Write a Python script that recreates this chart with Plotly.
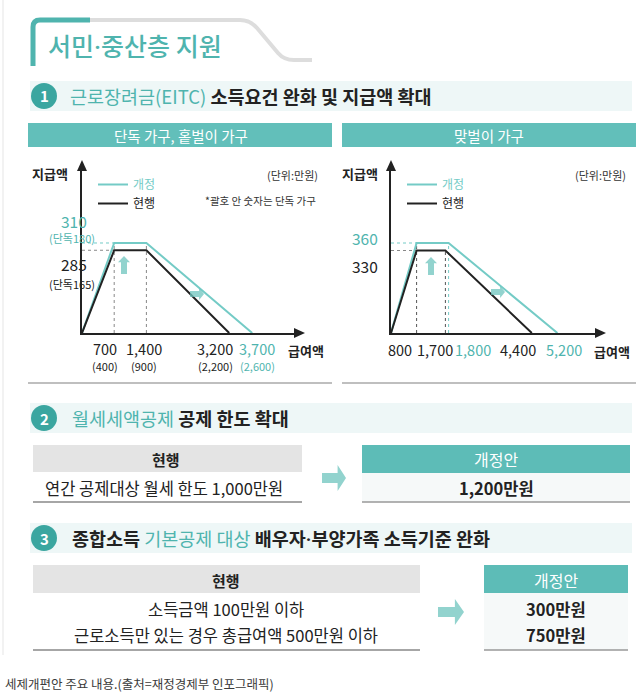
import plotly.graph_objects as go

W, H = 644, 698
FONT = "Noto Sans CJK KR"
TEAL_LINE = "#74cbc6"
TEAL_TXT = "#4fb4ae"
TEAL_BAR = "#62bfba"
TEAL_DARK = "#3ba6a0"
BLACK = "#222222"

# ---------------- data ----------------
single_current_x = [0, 700, 1400, 3200]
single_current_y = [0, 285, 285, 0]
single_revised_x = [0, 700, 1400, 3700]
single_revised_y = [0, 310, 310, 0]
single_x_labels = ["700", "1,400", "3,200", "3,700"]
single_x_values = [700, 1400, 3200, 3700]
single_x_sub = ["(400)", "(900)", "(2,200)", "(2,600)"]
single_x_revised_flag = [False, False, False, True]
single_y_values = [310, 285]
single_y_sub = ["(단독180)", "(단독165)"]

dual_current_x = [0, 800, 1700, 4400]
dual_current_y = [0, 330, 330, 0]
dual_revised_x = [0, 800, 1800, 5200]
dual_revised_y = [0, 360, 360, 0]
dual_x_labels = ["800", "1,700", "1,800", "4,400", "5,200"]
dual_x_values = [800, 1700, 1800, 4400, 5200]
dual_x_revised_flag = [False, False, True, False, True]
dual_y_values = [360, 330]

rent_current = ["연간 공제대상 월세 한도 1,000만원"]
rent_revised = ["1,200만원"]
dep_current = ["소득금액 100만원 이하", "근로소득만 있는 경우 총급여액 500만원 이하"]
dep_revised = ["300만원", "750만원"]

# label offsets (layout only, px)
single_x_shift = [-9, -2, -14, 5]
dual_x_shift = [-17, -10, 24, -14, 7]


def X(px):
    return px / W


def Y(py):
    return 1 - py / H


def P(points, close=True):
    s = ""
    for i, (a, b) in enumerate(points):
        s += ("M" if i == 0 else "L") + f"{X(a):.5f},{Y(b):.5f} "
    return s + ("Z" if close else "")


fig = go.Figure()

fig.add_trace(go.Scatter(x=single_revised_x, y=single_revised_y, mode="lines",
                         line=dict(color=TEAL_LINE, width=2),
                         name=f"<span style='color:{TEAL_LINE}'>개정</span>",
                         xaxis="x", yaxis="y", legend="legend", hoverinfo="skip"))
fig.add_trace(go.Scatter(x=single_current_x, y=single_current_y, mode="lines",
                         line=dict(color=BLACK, width=2), name="현행",
                         xaxis="x", yaxis="y", legend="legend", hoverinfo="skip"))
fig.add_trace(go.Scatter(x=dual_revised_x, y=dual_revised_y, mode="lines",
                         line=dict(color=TEAL_LINE, width=2),
                         name=f"<span style='color:{TEAL_LINE}'>개정</span>",
                         xaxis="x2", yaxis="y2", legend="legend2", hoverinfo="skip"))
fig.add_trace(go.Scatter(x=dual_current_x, y=dual_current_y, mode="lines",
                         line=dict(color=BLACK, width=2), name="현행",
                         xaxis="x2", yaxis="y2", legend="legend2", hoverinfo="skip"))

shapes = []
ann = []


def rect(x0, y0, x1, y1, color, line=None):
    shapes.append(dict(type="rect", xref="paper", yref="paper", x0=X(x0), x1=X(x1),
                       y0=Y(y1), y1=Y(y0), fillcolor=color,
                       line=dict(width=0) if line is None else line, layer="below"))


def hline(x0, x1, y, color, width):
    shapes.append(dict(type="line", xref="paper", yref="paper", x0=X(x0), x1=X(x1),
                       y0=Y(y), y1=Y(y), line=dict(color=color, width=width)))


def text(t, x, y, size, color=BLACK, xanchor="center", weight=None, yanchor="middle"):
    f = dict(family=FONT, size=size, color=color)
    if weight:
        f["weight"] = weight
    ann.append(dict(text=t, x=X(x), y=Y(y), xref="paper", yref="paper", showarrow=False,
                    xanchor=xanchor, yanchor=yanchor, font=f))


# left border
shapes.append(dict(type="line", xref="paper", yref="paper", x0=X(3), x1=X(3), y0=Y(0), y1=Y(655),
                   line=dict(color="#eeeeee", width=1.5)))

# title bracket
shapes.append(dict(type="path", xref="paper", yref="paper",
                   path=f"M{X(86)},{Y(20)} L{X(240)},{Y(20)} Q{X(250)},{Y(20)} {X(257)},{Y(28)} "
                        f"L{X(278)},{Y(53)} Q{X(284)},{Y(60)} {X(294)},{Y(60)} L{X(312)},{Y(60)}",
                   line=dict(color="#dddddd", width=4)))
shapes.append(dict(type="path", xref="paper", yref="paper",
                   path=f"M{X(33)},{Y(66)} L{X(33)},{Y(27)} Q{X(33)},{Y(20)} {X(40)},{Y(20)} L{X(90)},{Y(20)}",
                   line=dict(color=TEAL_TXT, width=5)))
text("서민<span style='font-family:Roboto'>·</span>중산층 지원", 46, 45, 25, TEAL_TXT,
     xanchor="left", weight=500)

# section bands + circles
for (yc, num) in [(96, "1"), (418, "2"), (538, "3")]:
    rect(30, yc - 15, 632, yc + 15, "#eef7f7")
    shapes.append(dict(type="circle", xref="paper", yref="paper", x0=X(31), x1=X(57),
                       y0=Y(yc + 13), y1=Y(yc - 13), fillcolor=TEAL_DARK, line=dict(width=0)))
    text(f"<b>{num}</b>", 44, yc, 15, "white")

HS = 18.5
text(f"<span style='color:{TEAL_TXT}'>근로장려금(EITC)</span> <b>소득요건 완화 및 지급액 확대</b>",
     68, 96, HS, BLACK, xanchor="left")
text(f"<span style='color:{TEAL_TXT}'>월세세액공제</span> <b>공제 한도 확대</b>",
     70, 418, HS, BLACK, xanchor="left")
text(f"<b>종합소득 </b><span style='color:{TEAL_TXT}'>기본공제 대상</span>"
     f"<b> 배우자<span style='font-family:Roboto'>·</span>부양가족 소득기준 완화</b>",
     70, 538, HS, BLACK, xanchor="left")

# sub headers
rect(28, 123, 332, 147, TEAL_BAR)
rect(342, 123, 636, 147, TEAL_BAR)
text("단독 가구, 홑벌이 가구", 181, 135.5, 14.5, "white")
text("맞벌이 가구", 489, 135.5, 14.5, "white")
hline(28, 332, 383, "#aaaaaa", 1.5)
hline(342, 636, 383, "#aaaaaa", 1.5)

# axes geometry
L_X0, L_X1, R_X0, R_X1 = 82, 296, 391, 597
Y0, Y1 = 333, 168
lx_range = [0, 4652]
ly_range = [0, 568.3]
rx_range = [0, 6437.5]
ry_range = [0, 660]

for (x0, x1) in [(L_X0, L_X1), (R_X0, R_X1)]:
    shapes.append(dict(type="path", xref="paper", yref="paper",
                       path=P([(x0, Y1 - 8), (x0 + 5, Y1 + 3), (x0 - 5, Y1 + 3)]),
                       fillcolor=BLACK, line=dict(width=0)))
    shapes.append(dict(type="path", xref="paper", yref="paper",
                       path=P([(x1 + 9, Y0), (x1 - 2, Y0 - 5), (x1 - 2, Y0 + 5)]),
                       fillcolor=BLACK, line=dict(width=0)))


def dline(xr, yr, x0, x1, y0, y1, color):
    shapes.append(dict(type="line", xref=xr, yref=yr, x0=x0, x1=x1, y0=y0, y1=y1,
                       line=dict(color=color, width=1, dash="dot"), layer="below"))


dline("x", "y", 0, single_revised_x[1], single_revised_y[1], single_revised_y[1], TEAL_LINE)
dline("x", "y", 0, single_current_x[1], single_current_y[1], single_current_y[1], "#888888")
dline("x", "y", single_revised_x[1], single_revised_x[1], 0, single_revised_y[1], "#888888")
dline("x", "y", single_revised_x[2], single_revised_x[2], 0, single_revised_y[2], "#888888")
dline("x2", "y2", 0, dual_revised_x[1], dual_revised_y[1], dual_revised_y[1], TEAL_LINE)
dline("x2", "y2", 0, dual_current_x[1], dual_current_y[1], dual_current_y[1], "#888888")
dline("x2", "y2", dual_revised_x[1], dual_revised_x[1], 0, dual_revised_y[1], "#555555")
dline("x2", "y2", dual_current_x[2], dual_current_x[2], 0, dual_current_y[2], "#555555")
dline("x2", "y2", dual_revised_x[2], dual_revised_x[2], 0, dual_revised_y[2], TEAL_LINE)

ARROW = "rgba(110,196,190,0.75)"


def up_arrow(cx, cy, w=12, h=20):
    hw, hh = w / 2, h / 2
    shapes.append(dict(type="path", xref="paper", yref="paper", fillcolor=ARROW, line=dict(width=0),
                       path=P([(cx, cy - hh), (cx + hw, cy - hh * 0.3), (cx + hw / 2, cy - hh * 0.3),
                               (cx + hw / 2, cy + hh), (cx - hw / 2, cy + hh),
                               (cx - hw / 2, cy - hh * 0.3), (cx - hw, cy - hh * 0.3)])))


def right_arrow(cx, cy, w=20, h=12, stem=3):
    hw, hh = w / 2, h / 2
    shapes.append(dict(type="path", xref="paper", yref="paper", fillcolor=ARROW, line=dict(width=0),
                       path=P([(cx + hw, cy), (cx + hw * 0.3, cy - hh), (cx + hw * 0.3, cy - stem),
                               (cx - hw, cy - stem), (cx - hw, cy + stem), (cx + hw * 0.3, cy + stem),
                               (cx + hw * 0.3, cy + hh)])))


up_arrow(124, 265, 12, 18)
right_arrow(197, 294, 14, 12, 3)
up_arrow(431, 266, 12, 18)
right_arrow(498, 292, 14, 12, 3)
right_arrow(334, 478, 24, 26, 5)
right_arrow(451, 612, 26, 26, 5)

# chart labels
for cx in [50, 360]:
    text("<b>지급액</b>", cx, 173, 13)
text("(단위:만원)", 292, 175, 11, "#333333")
text("(단위:만원)", 600, 175, 11, "#333333")
text("*괄호 안 숫자는 단독 가구", 318, 200, 10.5, "#333333", xanchor="right")
text("<b>급여액</b>", 306, 350, 13)
text("<b>급여액</b>", 612, 351, 13)

# x value labels
for v, lab, sub, rev, sh in zip(single_x_values, single_x_labels, single_x_sub,
                                single_x_revised_flag, single_x_shift):
    c = TEAL_TXT if rev else BLACK
    ann.append(dict(text=lab, x=v, y=Y(348), xref="x", yref="paper", xshift=sh, showarrow=False,
                    font=dict(family=FONT, size=14.5, color=c)))
    ann.append(dict(text=sub, x=v, y=Y(366), xref="x", yref="paper", xshift=sh, showarrow=False,
                    font=dict(family=FONT, size=11, color=c)))
for v, lab, rev, sh in zip(dual_x_values, dual_x_labels, dual_x_revised_flag, dual_x_shift):
    c = TEAL_TXT if rev else BLACK
    ann.append(dict(text=lab, x=v, y=Y(349), xref="x2", yref="paper", xshift=sh, showarrow=False,
                    font=dict(family=FONT, size=14.5, color=c)))

# y value labels
ycol = [TEAL_TXT, BLACK]
for v, sub, c, s1, s2 in zip(single_y_values, single_y_sub, ycol, [22, -14], [5, -34]):
    ann.append(dict(text=str(v), x=X(59), y=v, xref="paper", yref="y", yshift=s1, showarrow=False,
                    font=dict(family=FONT, size=15.5, color=c)))
    ann.append(dict(text=sub, x=X(47), y=v, xref="paper", yref="y", yshift=s2, showarrow=False,
                    font=dict(family=FONT, size=11, color=c)))
for v, c, s1 in zip(dual_y_values, ycol, [5, -15]):
    ann.append(dict(text=str(v), x=X(365), y=v, xref="paper", yref="y2", yshift=s1, showarrow=False,
                    font=dict(family=FONT, size=15.5, color=c)))

ROW = 16.5
# section 2 table
rect(33, 445, 302, 472, "#e4e4e4")
rect(362, 445, 630, 473, "#5dbcb7")
rect(362, 473, 630, 502, "#f6f9f9")
hline(33, 302, 502, "#888888", 1.5)
hline(362, 630, 502, "#999999", 1.5)
text("<b>현행</b>", 166, 459, 15)
text("개정안", 496, 459, 16, "white")
for i, t in enumerate(rent_current):
    text(t, 164, 488 + i * 26, ROW)
for i, t in enumerate(rent_revised):
    text(f"<b>{t}</b>", 496, 488 + i * 26, ROW)

# section 3 table
rect(33, 565, 420, 593, "#e4e4e4")
rect(484, 565, 628, 593, "#5dbcb7")
rect(484, 593, 628, 650, "#f6f9f9")
hline(33, 420, 650, "#888888", 1.5)
hline(484, 628, 650, "#999999", 1.5)
text("<b>현행</b>", 226, 580, 15)
text("개정안", 556, 580, 16, "white")
for i, t in enumerate(dep_current):
    text(t, 226, 609 + i * 26, ROW)
for i, t in enumerate(dep_revised):
    text(f"<b>{t}</b>", 556, 609 + i * 26, ROW)

# caption
text("세제개편안 주요 내용.(출처=재정경제부 인포그래픽)", 3, 683, 12.5, "#3a3a3a", xanchor="left")

axis_common = dict(showgrid=False, zeroline=False, showticklabels=False, ticks="",
                   showline=True, linecolor=BLACK, linewidth=2, fixedrange=True)

fig.update_layout(
    width=W, height=H, margin=dict(l=0, r=0, t=0, b=0),
    paper_bgcolor="white", plot_bgcolor="rgba(0,0,0,0)",
    font=dict(family=FONT),
    xaxis=dict(domain=[X(L_X0), X(L_X1)], range=lx_range, anchor="y", **axis_common),
    yaxis=dict(domain=[Y(Y0), Y(Y1)], range=ly_range, anchor="x", **axis_common),
    xaxis2=dict(domain=[X(R_X0), X(R_X1)], range=rx_range, anchor="y2", **axis_common),
    yaxis2=dict(domain=[Y(Y0), Y(Y1)], range=ry_range, anchor="x2", **axis_common),
    legend=dict(x=X(93), y=Y(170), xanchor="left", yanchor="top", bgcolor="rgba(0,0,0,0)",
                font=dict(family=FONT, size=12, color=BLACK), itemwidth=30, tracegroupgap=0,
                traceorder="normal"),
    legend2=dict(x=X(402), y=Y(170), xanchor="left", yanchor="top", bgcolor="rgba(0,0,0,0)",
                 font=dict(family=FONT, size=12, color=BLACK), itemwidth=30, tracegroupgap=0,
                 traceorder="normal"),
    shapes=shapes, annotations=ann, showlegend=True,
)

fig.write_html("out.html", config={"displayModeBar": False},
               post_script="document.body.style.margin='0px';")
